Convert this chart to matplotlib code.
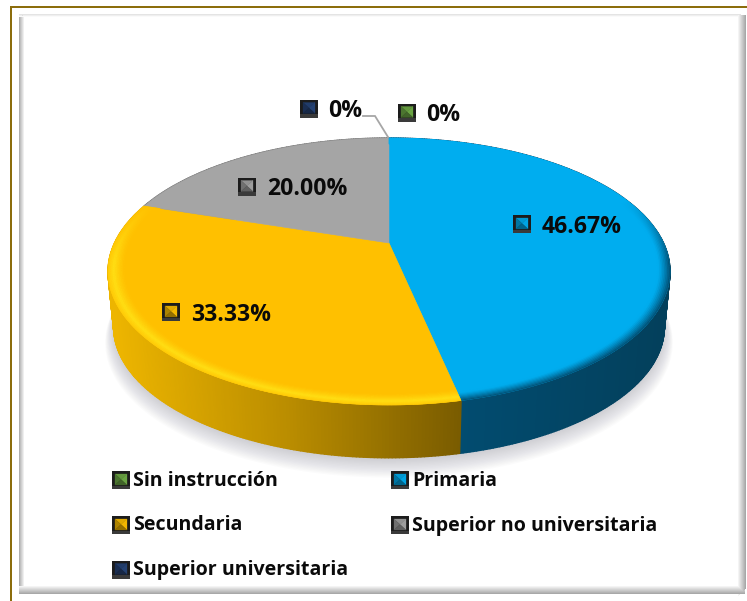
# -*- coding: utf-8 -*-
import numpy as np
import matplotlib
matplotlib.use("Agg")
import matplotlib.pyplot as plt
from matplotlib.collections import PolyCollection
from matplotlib.colors import to_rgb
from matplotlib.patches import Polygon, Rectangle

#%% Datos
categorias = ["Sin instrucción", "Primaria", "Secundaria",
              "Superior no universitaria", "Superior universitaria"]
valores = [0, 46.67, 33.33, 20.00, 0]
etiquetas = ["0%", "46.67%", "33.33%", "20.00%", "0%"]
colores = ["#70AD47", "#00ADEF", "#FFC000", "#A5A5A5", "#264478"]

plt.rcParams['font.family'] = ['Open Sans', 'DejaVu Sans']
plt.rcParams['font.weight'] = 'bold'

fig = plt.figure(figsize=(7.47, 6.01), dpi=100)
ax = fig.add_axes([0, 0, 1, 1])
ax.set_xlim(0, 747)
ax.set_ylim(601, 0)
ax.axis('off')

#%% Geometria: disco en perspectiva
cx, cy = 389, 243
X, A, c = 274.5, 127.4, 0.2135
prof = 56


def punto(ang, r=1.0, s=1.0, d=0.0):
    u = r * np.sin(ang)
    v = r * np.cos(ang)
    w = 1 + c * v
    return cx + s * X * u / w, cy - s * A * v / w + d


def mezcla(a, b, t):
    a, b = np.array(to_rgb(a)), np.array(to_rgb(b))
    return tuple(a + (b - a) * np.clip(t, 0, 1))


#%% Sombra difusa
tt = np.linspace(0, 2 * np.pi, 240)
for k in np.linspace(1.0, 0.0, 14):
    xs, ys = punto(tt, 1.0, 0.98 + 0.03 * k, prof + 2 + 13 * k)
    ax.add_patch(Polygon(np.c_[xs, ys], closed=True, fc="#8a8a9a", ec='none',
                         alpha=0.03, zorder=1))

#%% Lados
lado_amarillo = [(113, "#EDB500"), (290, "#B98C00"), (459, "#7A5C00")]
lado_azul = [(459, "#024C70"), (664, "#03405C")]
lado_otros = {0: "#50803A", 3: "#6E6E6E", 4: "#1A3055"}


def color_lado(i, x):
    if i == 2:
        tabla = lado_amarillo
    elif i == 1:
        tabla = lado_azul
    else:
        return to_rgb(lado_otros[i])
    xp = [p[0] for p in tabla]
    rgb = np.array([to_rgb(p[1]) for p in tabla])
    return tuple(np.interp(x, xp, rgb[:, j]) for j in range(3))


acum = np.cumsum([0] + valores) / sum(valores) * 2 * np.pi
lados, colores_lados = [], []
for i in range(len(valores)):
    if valores[i] == 0:
        continue
    aa = np.linspace(acum[i], acum[i + 1], max(int(valores[i] * 6), 2) + 1)
    for a0, a1 in zip(aa[:-1], aa[1:]):
        x0, y0 = punto(a0)
        x1, y1 = punto(a1)
        x2, y2 = punto(a1, 1.0, 0.98, prof)
        x3, y3 = punto(a0, 1.0, 0.98, prof)
        lados.append([(x0, y0), (x1, y1), (x2, y2), (x3, y3)])
        colores_lados.append(color_lado(i, (x0 + x1) / 2))
pc = PolyCollection(lados, facecolors=colores_lados, edgecolors=colores_lados,
                    linewidths=1.0, zorder=2)
ax.add_collection(pc)

#%% Cara superior
for i in range(len(valores)):
    if valores[i] == 0:
        continue
    aa = np.linspace(acum[i], acum[i + 1], 200)
    xs, ys = punto(aa)
    verts = np.r_[[[cx, cy]], np.c_[xs, ys]]
    ax.add_patch(Polygon(verts, closed=True, fc=colores[i], ec=colores[i], lw=0.4, zorder=3))

#%% Bisel del borde
radios = np.linspace(1.0, 0.93, 14)
quads, cols = [], []
for i in (1, 2):
    aa = np.linspace(acum[i], acum[i + 1], int(valores[i] * 5) + 1)
    for r0, r1 in zip(radios[:-1], radios[1:]):
        rm = (1 - (r0 + r1) / 2) / (1 - radios[-1])
        for a0, a1 in zip(aa[:-1], aa[1:]):
            am = (a0 + a1) / 2
            peso = np.clip((0.35 - np.cos(am)) / 0.5, 0, 1)
            if i == 2:
                # brillo amarillo en medio del bisel
                t = peso * np.clip(1 - abs(rm - 0.3) / 0.55, 0, 1) ** 1.3
                col = mezcla(colores[i], "#FFDF14", t)
            else:
                t = peso * np.clip(1 - rm / 0.6, 0, 1) ** 1.3
                col = mezcla(colores[i], "#024C70", t)
            p = [punto(a0, r0), punto(a1, r0), punto(a1, r1), punto(a0, r1)]
            quads.append(p)
            cols.append(col)
ax.add_collection(PolyCollection(quads, facecolors=cols, edgecolors=cols,
                                 linewidths=0.4, zorder=4))


#%% Marcadores biselados
def marcador(x, y, color, t=18):
    x1, y1 = x + t, y + t
    ax.add_patch(Rectangle((x, y), t, t, fc="#1c1c1c", ec='none', zorder=8))
    ax.add_patch(Rectangle((x, y1 - 3.5), t, 3.5, fc="#3a3a3a", ec='none', zorder=8))
    xa, ya, xb, yb = x + 3, y + 3, x1 - 3, y1 - 4
    xm, ym = (xa + xb) / 2, (ya + yb) / 2
    caras = [
        ([(xa, ya), (xb, ya), (xm, ym)], mezcla(color, "#000000", 0.12)),
        ([(xa, ya), (xa, yb), (xm, ym)], mezcla(color, "#000000", 0.32)),
        ([(xb, ya), (xb, yb), (xm, ym)], mezcla(color, "#000000", 0.05)),
        ([(xa, yb), (xb, yb), (xm, ym)], mezcla(color, "#000000", 0.42)),
    ]
    for v, col in caras:
        ax.add_patch(Polygon(v, closed=True, fc=col, ec=col, lw=0.2, zorder=9))


#%% Etiquetas de datos
pos_etq = [(398, 103.5, 426, 120.7), (513, 215, 542, 233.3), (162, 303, 191, 320.7),
           (238, 177.5, 267, 195), (300, 99.5, 328, 116.7)]
for i in range(len(valores)):
    mx, my, tx, ty = pos_etq[i]
    marcador(mx, my, colores[i])
    ax.text(tx, ty, etiquetas[i], fontsize=16.6, fontweight='bold', color="#0a0a0a",
            ha='left', va='baseline', zorder=10)

# linea guia del 0%
ax.plot([388, 375, 363], [137, 116, 116], color="#A6A6A6", lw=1.3, zorder=5,
        solid_joinstyle='miter')

#%% Leyenda
pos_ley = [(112, 485.5), (391, 485.5), (112, 530.5), (391, 530.5), (112, 575)]
for i, nombre in enumerate(categorias):
    lx, ly = pos_ley[i]
    marcador(lx, ly - 14.5, colores[i])
    ax.text(lx + 21, ly, nombre, fontsize=14.15, fontweight='bold', color="#0a0a0a",
            ha='left', va='baseline', zorder=10)

#%% Marco
oro = "#8C6D0C"
ax.add_patch(Rectangle((10, 6), 737, 2.2, fc=oro, ec='none', zorder=12))
ax.add_patch(Rectangle((10, 6), 2.2, 595, fc=oro, ec='none', zorder=12))

for k in range(5):
    gris = mezcla("#b0b0b0", "#ffffff", k / 5)
    ax.add_patch(Rectangle((19 + k, 15), 1, 575, fc=gris, ec='none', zorder=11))
    ax.add_patch(Rectangle((19, 14 + k * 0.5), 722, 0.6, fc=mezcla("#e4e4e4", "#ffffff", k / 5),
                           ec='none', zorder=11))
for k in range(8):
    gris = mezcla("#ffffff", "#a8a8a8", (k + 1) / 8)
    ax.add_patch(Rectangle((738 + k, 15), 1, 581 - k, fc=gris, ec='none', zorder=11))
    ax.add_patch(Rectangle((19, 586 + k), 726, 1, fc=gris, ec='none', zorder=11))

fig.savefig("out.png", dpi=100)
